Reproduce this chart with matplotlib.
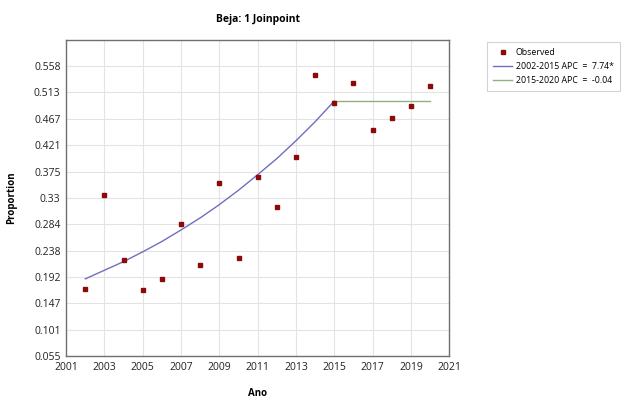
import numpy as np
import matplotlib.pyplot as plt

plt.rcParams['font.family'] = ['Open Sans', 'DejaVu Sans']

# Observed proportions
years = [2002, 2003, 2004, 2005, 2006, 2007, 2008, 2009, 2010, 2011,
         2012, 2013, 2014, 2015, 2016, 2017, 2018, 2019, 2020]
observed = [0.171, 0.334, 0.222, 0.170, 0.189, 0.284, 0.213, 0.355, 0.225, 0.366,
            0.313, 0.401, 0.544, 0.495, 0.529, 0.447, 0.468, 0.490, 0.524]

# Joinpoint fitted segments
seg1_years = [2002, 2003, 2004, 2005, 2006, 2007, 2008, 2009, 2010, 2011,
              2012, 2013, 2014, 2015]
seg1_fit = [0.189, 0.204, 0.219, 0.236, 0.254, 0.274, 0.295, 0.318, 0.343, 0.370,
            0.398, 0.429, 0.462, 0.498]
seg2_years = [2015, 2016, 2017, 2018, 2019, 2020]
seg2_fit = [0.498, 0.498, 0.498, 0.498, 0.498, 0.498]

ytick_vals = [0.055, 0.101, 0.147, 0.192, 0.238, 0.284, 0.33, 0.375, 0.421, 0.467, 0.513, 0.558]
ytick_labels = ['0.055', '0.101', '0.147', '0.192', '0.238', '0.284', '0.33', '0.375',
                '0.421', '0.467', '0.513', '0.558']
xtick_vals = list(range(2001, 2022, 2))

fig = plt.figure(figsize=(6.3, 4), dpi=100)
ax = fig.add_axes([0.105, 0.11, 0.608, 0.79])

ax.plot(seg1_years, seg1_fit, color='#6f6fbf', lw=1.0, label='2002-2015 APC  =  7.74*', zorder=2)
ax.plot(seg2_years, seg2_fit, color='#8fb083', lw=1.0, label='2015-2020 APC  =  -0.04', zorder=2)
ax.plot(years, observed, linestyle='none', marker='s', ms=2.8, color='#8b0a0a',
        label='Observed', zorder=3)

ax.set_xlim(2001, 2021)
ax.set_ylim(0.055, 0.604)
ax.set_xticks(xtick_vals)
ax.set_yticks(ytick_vals)
ax.set_yticklabels(ytick_labels)
ax.tick_params(labelsize=7.5, length=0, pad=4, colors='#222222')
ax.grid(True, color='#e3e3e3', lw=0.8)
ax.set_axisbelow(True)
for s in ax.spines.values():
    s.set_color('#707070')
    s.set_linewidth(1.0)

ax.set_title('Beja: 1 Joinpoint', fontsize=7.5, fontweight='bold', pad=13)
ax.set_xlabel('Ano', fontsize=7, fontweight='bold', labelpad=11)
ax.set_ylabel('Proportion', fontsize=7, fontweight='bold', labelpad=12)

handles, labels = ax.get_legend_handles_labels()
order = [2, 0, 1]
leg = fig.legend([handles[i] for i in order], [labels[i] for i in order],
                 loc='upper left', bbox_to_anchor=(0.773, 0.895), fontsize=6.3,
                 frameon=True, fancybox=False, edgecolor='#c8c8c8',
                 handlelength=2.2, borderpad=0.7, labelspacing=0.55, handletextpad=0.4,
                 borderaxespad=0)
leg.get_frame().set_linewidth(0.8)

fig.savefig('out.png', dpi=100)
